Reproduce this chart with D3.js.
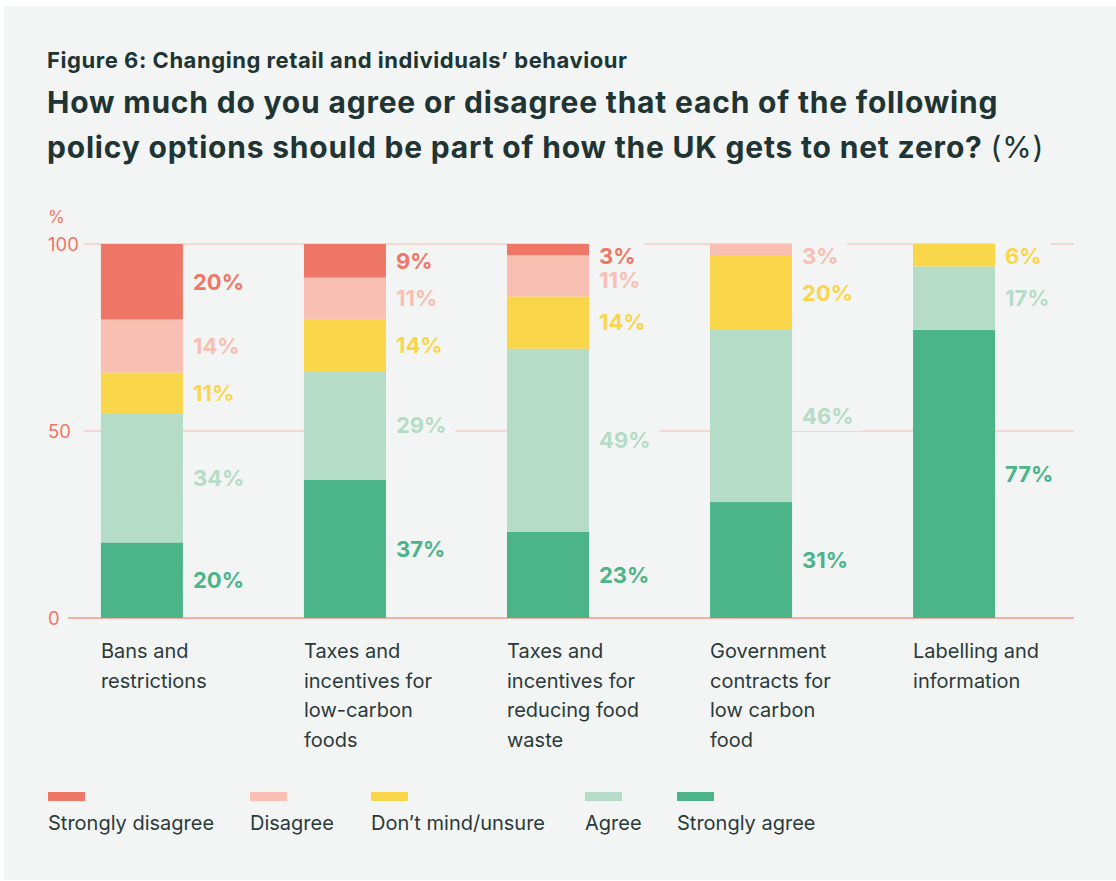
<!DOCTYPE html>
<html>
<head>
<meta charset="utf-8">
<script src="https://cdn.jsdelivr.net/npm/d3@7"></script>
<style>
  html, body { margin: 0; padding: 0; background: #ffffff; }
  svg { display: block; }
  text { font-family: Inter, "Noto Sans", "DejaVu Sans", sans-serif; }
</style>
</head>
<body>
<svg id="chart" width="1116" height="881"></svg>
<script>
// ---- data ----
const categories = [
  ["Bans and", "restrictions"],
  ["Taxes and", "incentives for", "low-carbon", "foods"],
  ["Taxes and", "incentives for", "reducing food", "waste"],
  ["Government", "contracts for", "low carbon", "food"],
  ["Labelling and", "information"]
];
const seriesNames = ["Strongly agree", "Agree", "Don\u2019t mind/unsure", "Disagree", "Strongly disagree"];
const stronglyAgree    = [20, 37, 23, 31, 77];
const agree            = [34, 29, 49, 46, 17];
const dontMind         = [11, 14, 14, 20, 6];
const disagree         = [14, 11, 11, 3, 0];
const stronglyDisagree = [20, 9, 3, 0, 0];
const yTicks = [0, 50, 100];
const legendOrder = ["Strongly disagree", "Disagree", "Don\u2019t mind/unsure", "Agree", "Strongly agree"];

const colors = {
  "Strongly disagree": "#ef7767",
  "Disagree": "#f8bfb2",
  "Don\u2019t mind/unsure": "#fad64a",
  "Agree": "#b5dcc6",
  "Strongly agree": "#4bb488"
};

const seriesValues = [stronglyAgree, agree, dontMind, disagree, stronglyDisagree];
const rows = categories.map((c, i) => {
  const r = { idx: i };
  seriesNames.forEach((s, k) => r[s] = seriesValues[k][i]);
  return r;
});

const svg = d3.select("#chart");
const BG = "#f3f5f4";
const TEXT = "#203434";

svg.append("rect").attr("x", 4).attr("y", 6).attr("width", 1112).attr("height", 874).attr("fill", BG);

// titles
svg.append("text").attr("x", 47).attr("y", 68)
  .attr("font-size", 22).attr("font-weight", 700).attr("fill", TEXT)
  .attr("letter-spacing", 0.55)
  .text("Figure 6: Changing retail and individuals\u2019 behaviour");
const t1 = svg.append("text").attr("x", 47).attr("y", 113)
  .attr("font-size", 30).attr("font-weight", 700).attr("fill", TEXT).attr("letter-spacing", 0.8);
t1.text("How much do you agree or disagree that each of the following");
const t2 = svg.append("text").attr("x", 47).attr("y", 158)
  .attr("font-size", 30).attr("font-weight", 700).attr("fill", TEXT).attr("letter-spacing", 0.8);
t2.append("tspan").text("policy options should be part of how the UK gets to net zero? ");
t2.append("tspan").attr("font-weight", 400).text("(%)");

// scales
const y = d3.scaleLinear().domain([0, 1]).range([618, 244]);
const x = d3.scaleBand().domain(d3.range(categories.length))
  .range([40, 1056]).paddingInner(0.596).paddingOuter(0.3);

const stack = d3.stack().keys(seriesNames).offset(d3.stackOffsetExpand);
const stacked = stack(rows);

// grid lines
const grid = svg.append("g");
yTicks.filter(t => t > 0).forEach(t => {
  grid.append("line").attr("x1", 84).attr("x2", 1074)
    .attr("y1", y(t / 100)).attr("y2", y(t / 100))
    .attr("stroke", "#f6b9ad").attr("stroke-width", 1.2);
});
// zero axis
svg.append("line").attr("x1", 68).attr("x2", 1074).attr("y1", y(0)).attr("y2", y(0))
  .attr("stroke", "#f39a8d").attr("stroke-width", 1.4);

// y tick labels
const yAxis = d3.axisLeft(y).tickValues(yTicks.map(t => t / 100)).tickFormat(d => Math.round(d * 100)).tickSize(0);
const ya = svg.append("g").attr("transform", "translate(48,0)").call(yAxis);
ya.select(".domain").remove();
ya.selectAll("text").attr("x", 0).attr("text-anchor", "start")
  .attr("font-size", 18.5).attr("fill", "#f07565").attr("font-family", "Inter, 'Noto Sans', sans-serif")
  .attr("dy", "0.36em");
svg.append("text").attr("x", 48).attr("y", 223).attr("font-size", 17).attr("fill", "#f07565").text("%");

// bars
const barG = svg.append("g");
stacked.forEach(layer => {
  barG.selectAll(null).data(layer).join("rect")
    .attr("x", (d, i) => x(i))
    .attr("width", x.bandwidth())
    .attr("y", d => y(d[1]))
    .attr("height", d => y(d[0]) - y(d[1]))
    .attr("fill", colors[layer.key]);
});

// value labels
const labG = svg.append("g");
categories.forEach((c, i) => {
  const items = [];
  for (let k = stacked.length - 1; k >= 0; k--) {
    const layer = stacked[k];
    const v = seriesValues[k][i];
    if (v <= 0) continue;
    const d = layer[i];
    items.push({ key: layer.key, v, cy: (y(d[0]) + y(d[1])) / 2 });
  }
  let prev = -Infinity;
  items.forEach(it => {
    let cy = Math.max(it.cy, 256, prev + 24);
    it.ly = cy; prev = cy;
  });
  items.forEach(it => {
    const lx = x(i) + x.bandwidth() + 10;
    const g = labG.append("g");
    const bgR = g.append("rect").attr("fill", BG);
    const tx = g.append("text").attr("x", lx).attr("y", it.ly).attr("dy", "0.36em")
      .attr("font-size", 22).attr("font-weight", 700).attr("fill", colors[it.key])
      .text(it.v + "%");
    const w = tx.node().getComputedTextLength();
    bgR.attr("x", x(i) + x.bandwidth()).attr("y", it.ly - 15)
      .attr("width", lx + w + 9 - (x(i) + x.bandwidth())).attr("height", 30);
  });
});

// category labels
categories.forEach((lines, i) => {
  const t = svg.append("text").attr("x", x(i)).attr("y", 658)
    .attr("font-size", 20).attr("fill", "#2a3a3a");
  lines.forEach((ln, j) => {
    t.append("tspan").attr("x", x(i)).attr("dy", j === 0 ? 0 : 29.5).text(ln);
  });
});

// legend
const legendX = [48, 250, 371, 585, 677];
legendOrder.forEach((name, i) => {
  svg.append("rect").attr("x", legendX[i]).attr("y", 792).attr("width", 37).attr("height", 9)
    .attr("fill", colors[name]);
  svg.append("text").attr("x", legendX[i]).attr("y", 830).attr("font-size", 20)
    .attr("fill", "#2a3a3a").text(name);
});
</script>
</body>
</html>
